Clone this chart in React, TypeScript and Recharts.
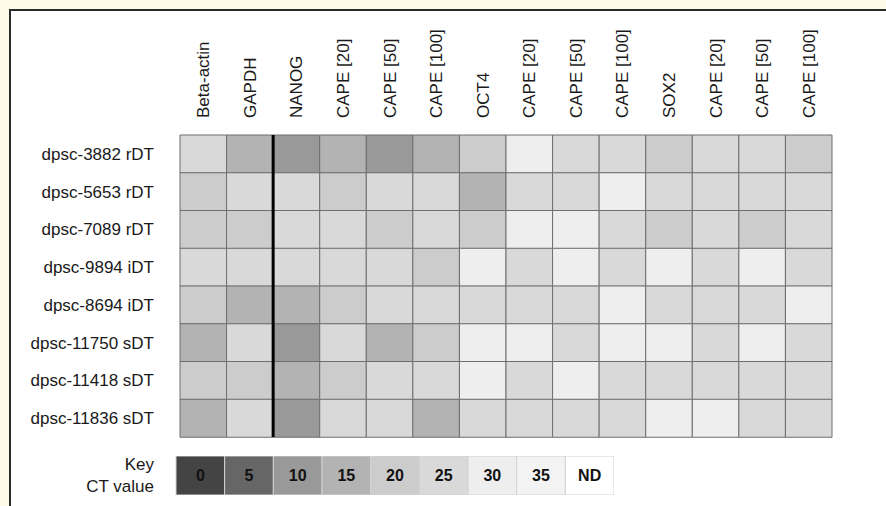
import React from "react";
import { Bar, BarChart, Cell, LabelList, ReferenceLine, XAxis, YAxis } from "recharts";

const samples = [
    "dpsc-3882 rDT",
    "dpsc-5653 rDT",
    "dpsc-7089 rDT",
    "dpsc-9894 iDT",
    "dpsc-8694 iDT",
    "dpsc-11750 sDT",
    "dpsc-11418 sDT",
    "dpsc-11836 sDT",
];

const assays = [
    "Beta-actin",
    "GAPDH",
    "NANOG",
    "CAPE [20]",
    "CAPE [50]",
    "CAPE [100]",
    "OCT4",
    "CAPE [20]",
    "CAPE [50]",
    "CAPE [100]",
    "SOX2",
    "CAPE [20]",
    "CAPE [50]",
    "CAPE [100]",
];

// CT value per assay, one list per sample
const ct3882 = [25, 15, 10, 15, 10, 15, 20, 30, 25, 25, 20, 25, 25, 20];
const ct5653 = [20, 25, 25, 20, 25, 25, 15, 25, 25, 30, 25, 25, 25, 25];
const ct7089 = [20, 20, 25, 25, 20, 25, 20, 30, 30, 25, 20, 25, 20, 25];
const ct9894 = [25, 25, 25, 25, 25, 20, 30, 25, 30, 25, 30, 25, 30, 25];
const ct8694 = [20, 15, 15, 20, 25, 25, 25, 25, 25, 30, 25, 25, 25, 30];
const ct11750 = [15, 25, 10, 25, 15, 20, 30, 30, 25, 30, 30, 25, 30, 25];
const ct11418 = [20, 20, 15, 20, 25, 25, 30, 25, 30, 25, 25, 25, 25, 25];
const ct11836 = [15, 25, 10, 25, 25, 15, 25, 25, 25, 25, 30, 30, 25, 25];

const ctGrid = [ct3882, ct5653, ct7089, ct9894, ct8694, ct11750, ct11418, ct11836];

// key bins and their shades
const keyLabels = ["0", "5", "10", "15", "20", "25", "30", "35", "ND"];
const keyColors = [
    "#444444",
    "#666666",
    "#999999",
    "#b3b3b3",
    "#cccccc",
    "#d9d9d9",
    "#eeeeee",
    "#f3f3f3",
    "#ffffff",
];

const ctColor = (v: number) => keyColors[keyLabels.indexOf(String(v))] ?? "#ffffff";

const gridRows = samples.map((name) => {
    const row: Record<string, string | number> = { name };
    assays.forEach((_, c) => {
        row[`c${c}`] = 1;
    });
    return row;
});

const assayTicks = assays.map((_, i) => i + 0.5);

const keyRow: Record<string, string | number> = { name: "key" };
keyLabels.forEach((_, i) => {
    keyRow[`k${i}`] = 1;
});

const TEXT = "#1a1a1a";

const AssayTick = (props: any) => {
    const { x, y, payload } = props;
    const label = assays[Math.floor(payload.value)];
    return (
        <text
            transform={`translate(${x + 6},${y}) rotate(-90)`}
            textAnchor="start"
            fontSize={17}
            fill={TEXT}
        >
            {label}
        </text>
    );
};

const KeyTick = (props: any) => {
    const { x, y } = props;
    return (
        <text x={x} y={y} textAnchor="end" fontSize={17} fill={TEXT}>
            <tspan x={x} dy={-6}>
                Key
            </tspan>
            <tspan x={x} dy={22}>
                CT value
            </tspan>
        </text>
    );
};

const App = () => {
    return (
        <div
            style={{
                position: "fixed",
                left: 0,
                top: 0,
                width: 886,
                height: 506,
                overflow: "hidden",
                background: "#fffbea",
                fontFamily: "'Liberation Sans', Arial, sans-serif",
            }}
        >
            <div
                style={{
                    position: "absolute",
                    left: 9,
                    top: 9,
                    width: 900,
                    height: 520,
                    background: "#ffffff",
                    borderTop: "2px solid #2a2a2a",
                    borderLeft: "2px solid #2a2a2a",
                }}
            />
            <div style={{ position: "absolute", left: 0, top: 0 }}>
                <BarChart
                    width={886}
                    height={450}
                    data={gridRows}
                    layout="vertical"
                    margin={{ top: 0, right: 54, bottom: 13, left: 0 }}
                    barCategoryGap={0}
                >
                    <XAxis
                        type="number"
                        orientation="top"
                        domain={[0, 14]}
                        ticks={assayTicks}
                        interval={0}
                        height={135}
                        axisLine={false}
                        tickLine={false}
                        tickSize={0}
                        tickMargin={17}
                        tick={<AssayTick />}
                    />
                    <YAxis
                        type="category"
                        dataKey="name"
                        width={180}
                        axisLine={false}
                        tickLine={false}
                        tickSize={0}
                        tickMargin={26}
                        tick={{ fontSize: 17, fill: TEXT }}
                    />
                    {assays.map((_, c) => (
                        <Bar key={c} dataKey={`c${c}`} stackId="grid" isAnimationActive={false}>
                            {ctGrid.map((vals, r) => (
                                <Cell key={r} fill={ctColor(vals[c])} stroke="#6e6e6e" strokeWidth={1} />
                            ))}
                        </Bar>
                    ))}
                    <ReferenceLine x={2} stroke="#000000" strokeWidth={3} />
                </BarChart>
            </div>
            <div style={{ position: "absolute", left: 0, top: 456 }}>
                <BarChart
                    width={614}
                    height={39}
                    data={[keyRow]}
                    layout="vertical"
                    margin={{ top: 0, right: 0, bottom: 0, left: 0 }}
                    barCategoryGap={0}
                >
                    <XAxis type="number" domain={[0, 9]} hide />
                    <YAxis
                        type="category"
                        dataKey="name"
                        width={176}
                        axisLine={false}
                        tickLine={false}
                        tickSize={0}
                        tickMargin={22}
                        tick={<KeyTick />}
                    />
                    {keyLabels.map((k, i) => (
                        <Bar
                            key={k}
                            dataKey={`k${i}`}
                            stackId="key"
                            fill={keyColors[i]}
                            stroke="#d2d2d2"
                            strokeWidth={1}
                            isAnimationActive={false}
                        >
                            <LabelList
                                position="center"
                                formatter={() => k}
                                fill="#111111"
                                fontSize={16}
                                fontWeight="bold"
                            />
                        </Bar>
                    ))}
                </BarChart>
            </div>
        </div>
    );
};

export default App;
